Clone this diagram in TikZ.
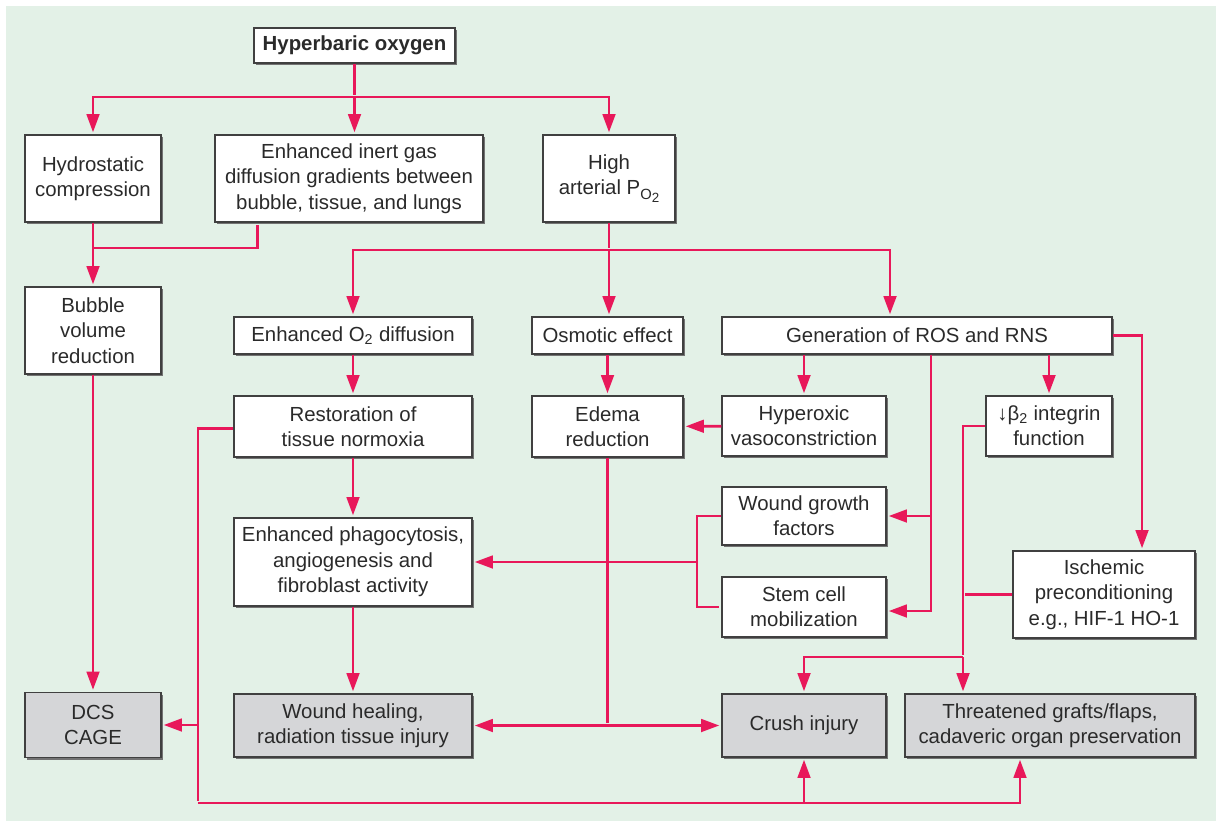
\documentclass[tikz,border=0pt]{standalone}
\usepackage{fontspec}
\setmainfont{Liberation Sans}
\usetikzlibrary{arrows.meta, shadows}
\definecolor{linkred}{HTML}{E8185A}
\definecolor{panelgreen}{HTML}{E3F1E7}
\definecolor{endgray}{HTML}{D5D6D8}
\definecolor{textgray}{HTML}{2A2A2A}
\newcommand\hbofont{\fontsize{14.5}{18}\selectfont}
\newcommand\ptwo{P\raisebox{-0.45ex}{\fontsize{10.5}{10.5}\selectfont O\raisebox{-0.45ex}{\fontsize{9.5}{9.5}\selectfont 2}}}
\tikzset{>={Triangle[length=13pt,width=9pt]}}
\tikzset{
  boxsize/.style 2 args={minimum width=#1*0.025cm, minimum height=#2*0.025cm},
  box/.style={draw=black!75, line width=0.8pt, fill=white, align=center, inner sep=2pt,
    text=textgray, font=\hbofont,
    drop shadow={shadow xshift=1.6pt, shadow yshift=-1.6pt, fill=black!55, opacity=1}},
  endbox/.style={box, fill=endgray},
  link/.style={draw=linkred, line width=2pt, shorten >=1.5pt},
}

\begin{document}
\begin{tikzpicture}[x=0.025cm, y=-0.025cm]
% panel
\useasboundingbox (0,0) rectangle (1221,821);
\fill[white] (0,0) rectangle (1221,821);
\fill[panelgreen] (6,6) rectangle (1216,821);

% boxes
\node[box, boxsize={201}{35}, font=\hbofont\bfseries] (hbo) at (354.5,45.5) {Hyperbaric oxygen};
\node[box, boxsize={136}{87}] (hydro) at (93,178.5) {Hydrostatic\\compression};
\node[box, boxsize={268}{87}] (inert) at (349,178.5) {Enhanced inert gas\\diffusion gradients between\\bubble, tissue, and lungs};
\node[box, boxsize={132}{87}] (high) at (609,178.5) {High\\arterial \ptwo};
\node[box, boxsize={136}{87}] (bubble) at (93,330.5) {Bubble\\volume\\reduction};

\node[box, boxsize={238}{37}] (otwo) at (353,335.5) {Enhanced O\textsubscript{2} diffusion};
\node[box, boxsize={151}{37}] (osmo) at (607.5,335.5) {Osmotic effect};
\node[box, boxsize={390}{37}] (ros) at (917,335.5) {Generation of ROS and RNS};

\node[box, boxsize={238}{61}] (restore) at (353,426.5) {Restoration of\\tissue normoxia};
\node[box, boxsize={151}{61}] (edema) at (607.5,426.5) {Edema\\reduction};
\node[box, boxsize={164}{60}] (hyperox) at (804,426) {Hyperoxic\\vasoconstriction};
\node[box, boxsize={126}{60}] (integrin) at (1049,426) {↓β\textsubscript{2} integrin\\function};

\node[box, boxsize={238}{88}] (phago) at (353,562) {Enhanced phagocytosis,\\angiogenesis and\\fibroblast activity};
\node[box, boxsize={164}{58}] (growth) at (804,516) {Wound growth\\factors};
\node[box, boxsize={164}{60}] (stem) at (804,607) {Stem cell\\mobilization};
\node[box, boxsize={182}{87}] (ischem) at (1104,594.5) {Ischemic\\preconditioning\\e.g., HIF-1 HO-1};

\node[endbox, boxsize={136}{65}] (dcs) at (93,725) {DCS\\CAGE};
\node[endbox, boxsize={238}{63}] (wound) at (353,725.5) {Wound healing,\\radiation tissue injury};
\node[endbox, boxsize={164}{63}] (crush) at (804,725.5) {Crush injury};
\node[endbox, boxsize={290}{63}] (grafts) at (1050,725.5) {Threatened grafts/flaps,\\cadaveric organ preservation};

% junction points
\coordinate (top) at (354.5,97);
\coordinate (merge) at (93,248);
\coordinate (split) at (609,250);
\coordinate (rosv) at (931,0);
\coordinate (ischx) at (1142,0);
\coordinate (brk) at (697,0);
\coordinate (rvbot) at (963,657);
\coordinate (loopbl) at (198,803);

% top tree
\draw[link] (hbo) -- (top);
\draw[link,->] (top) -| (hydro);
\draw[link,->] (top) -- (top |- inert.north);
\draw[link,->] (top) -| (high);

% bubble branch
\draw[link] (hydro) -- (merge) -- ([xshift=1.075cm]inert.south west |- merge) -- ([xshift=1.075cm]inert.south west);
\draw[link,->] (merge) -- (bubble);
\draw[link,->] (bubble) -- (dcs);

% high arterial PO2
\draw[link] (high) -- (split);
\draw[link,->] (split) -| (otwo);
\draw[link,->] (split) -- (split |- osmo.north);
\draw[link,->] (split) -| (ros.north -| 890,0);

% tissue oxygen chain
\draw[link,->] (otwo) -- (restore);
\draw[link,->] (restore) -- (phago);
\draw[link,->] (phago) -- (wound);
\draw[link,->] (osmo) -- (edema);
\draw[link,->] (hyperox) -- (edema);

% edema to outcomes
\draw[link] (edema.south) -- (edema.south |- wound.east) coordinate (edj);
\draw[link,->] (edj) -- (wound.east);
\draw[link,->] (edj) -- (crush.west);

% restoration loop round the bottom
\draw[link] ([yshift=-0.05cm]restore.west) -| (loopbl);
\draw[link,->] (loopbl |- dcs.east) -- (dcs.east);
\draw[link,->] (loopbl) -| ([xshift=-0.75cm]grafts.south);
\draw[link,->] (loopbl -| crush.south) -- (crush.south);

% ROS and RNS
\draw[link,->] (ros.south -| hyperox.north) -- (hyperox.north);
\draw[link,->] (ros.south -| integrin.north) -- (integrin.north);
\draw[link,->] (ros.south -| rosv) |- (growth.east);
\draw[link,->] (ros.south -| rosv) |- ([yshift=-0.1cm]stem.east);
\draw[link,->] (ros.east) -| (ischem.north -| ischx);

% growth factors and stem cells
\draw[link] (growth.west) -| (brk |- stem.west) -- (stem.west);
\draw[link,->] (brk |- phago.east) -- (phago.east);

% integrin and preconditioning
\draw[link] (integrin.west) -| (rvbot);
\draw[link] (ischem.west) -- (ischem.west -| rvbot);
\draw[link,->] (rvbot) -- (rvbot |- grafts.north);
\draw[link,->] (rvbot) -| (crush.north);
\end{tikzpicture}
\end{document}
